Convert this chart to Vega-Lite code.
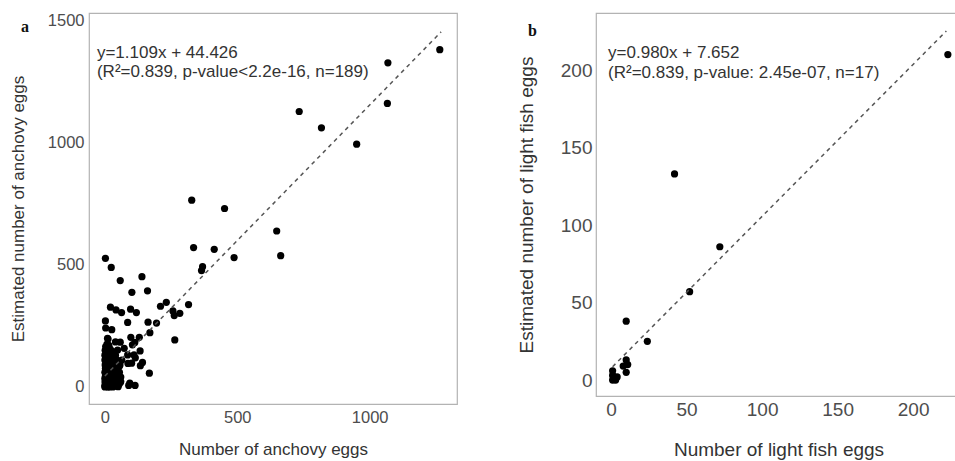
{
  "$schema": "https://vega.github.io/schema/vega-lite/v6.json",
  "padding": {"left": 8, "top": 11, "right": 0, "bottom": 0},
  "spacing": 58,
  "background": "white",
  "config": {
    "view": {"stroke": "#b3b3b3", "strokeWidth": 1.2},
    "axis": {"grid": false, "ticks": false, "domain": false, "format": "d", "labelFont": "Liberation Sans", "labelFontSize": 16.5, "labelColor": "#4d4d4d", "labelPadding": 5, "titleFont": "Liberation Sans", "titleFontSize": 17, "titleFontWeight": "normal", "titleColor": "#333333"},
    "title": {"font": "Liberation Serif", "fontSize": 16, "fontWeight": "bold", "color": "#111111", "anchor": "start", "frame": "group", "offset": 0}
  },
  "datasets": {
    "anchovy": [
      {"x": 1265, "y": 1380}, {"x": 1069, "y": 1326}, {"x": 1067, "y": 1160}, {"x": 734, "y": 1127}, {"x": 818, "y": 1060}, {"x": 951, "y": 993},
      {"x": 328, "y": 764}, {"x": 452, "y": 730}, {"x": 649, "y": 638}, {"x": 664, "y": 537}, {"x": 335, "y": 570}, {"x": 413, "y": 563},
      {"x": 488, "y": 529}, {"x": 369, "y": 492}, {"x": 365, "y": 476}, {"x": 2, "y": 526}, {"x": 24, "y": 489}, {"x": 58, "y": 435},
      {"x": 140, "y": 451}, {"x": 161, "y": 393}, {"x": 102, "y": 387}, {"x": 316, "y": 337}, {"x": 232, "y": 346}, {"x": 210, "y": 330},
      {"x": 257, "y": 311}, {"x": 283, "y": 301}, {"x": 262, "y": 292}, {"x": 264, "y": 192}, {"x": 195, "y": 261}, {"x": 163, "y": 265},
      {"x": 170, "y": 222}, {"x": 168, "y": 56}, {"x": 21, "y": 326}, {"x": 42, "y": 315}, {"x": 63, "y": 304}, {"x": 97, "y": 318},
      {"x": 119, "y": 304}, {"x": 86, "y": 264}, {"x": 2, "y": 270}, {"x": 3, "y": 241}, {"x": 26, "y": 234}, {"x": 12, "y": 196},
      {"x": 40, "y": 184}, {"x": 58, "y": 183}, {"x": 98, "y": 203}, {"x": 113, "y": 182}, {"x": 130, "y": 203}, {"x": 48, "y": 151},
      {"x": 133, "y": 147}, {"x": 110, "y": 131}, {"x": 115, "y": 119}, {"x": 87, "y": 96}, {"x": 101, "y": 97}, {"x": 142, "y": 100},
      {"x": 134, "y": 87}, {"x": 90, "y": 6}, {"x": 114, "y": 6}, {"x": 58, "y": 18}, {"x": 73, "y": 158}, {"x": 10, "y": 199},
      {"x": 104, "y": 172}, {"x": 86, "y": 131}, {"x": 64, "y": 110}, {"x": 54, "y": 83}, {"x": 60, "y": 22}, {"x": 94, "y": 15},
      {"x": 0, "y": 0}, {"x": 2, "y": 5}, {"x": 5, "y": 12}, {"x": 8, "y": 3}, {"x": 10, "y": 20}, {"x": 12, "y": 8}, {"x": 15, "y": 2},
      {"x": 18, "y": 15}, {"x": 20, "y": 30}, {"x": 22, "y": 5}, {"x": 25, "y": 10}, {"x": 28, "y": 22}, {"x": 30, "y": 0}, {"x": 32, "y": 14},
      {"x": 35, "y": 6}, {"x": 38, "y": 28}, {"x": 40, "y": 3}, {"x": 42, "y": 18}, {"x": 45, "y": 9}, {"x": 48, "y": 35}, {"x": 50, "y": 1},
      {"x": 1, "y": 25}, {"x": 3, "y": 40}, {"x": 6, "y": 33}, {"x": 9, "y": 48}, {"x": 11, "y": 38}, {"x": 14, "y": 55}, {"x": 16, "y": 44},
      {"x": 19, "y": 60}, {"x": 21, "y": 50}, {"x": 24, "y": 65}, {"x": 27, "y": 42}, {"x": 29, "y": 58}, {"x": 33, "y": 70}, {"x": 36, "y": 48},
      {"x": 39, "y": 62}, {"x": 43, "y": 75}, {"x": 46, "y": 52}, {"x": 0, "y": 60}, {"x": 2, "y": 75}, {"x": 4, "y": 88}, {"x": 7, "y": 68},
      {"x": 10, "y": 80}, {"x": 13, "y": 95}, {"x": 17, "y": 72}, {"x": 20, "y": 85}, {"x": 23, "y": 100}, {"x": 26, "y": 78}, {"x": 31, "y": 92},
      {"x": 34, "y": 105}, {"x": 37, "y": 84}, {"x": 41, "y": 98}, {"x": 44, "y": 112}, {"x": 0, "y": 110}, {"x": 3, "y": 120}, {"x": 5, "y": 100},
      {"x": 8, "y": 130}, {"x": 12, "y": 115}, {"x": 15, "y": 140}, {"x": 18, "y": 125}, {"x": 22, "y": 135}, {"x": 25, "y": 118}, {"x": 28, "y": 145},
      {"x": 32, "y": 128}, {"x": 1, "y": 150}, {"x": 6, "y": 145}, {"x": 10, "y": 160}, {"x": 14, "y": 152}, {"x": 20, "y": 155}, {"x": 0, "y": 35},
      {"x": 1, "y": 90}, {"x": 4, "y": 15}, {"x": 6, "y": 55}, {"x": 9, "y": 105}, {"x": 11, "y": 0}, {"x": 16, "y": 28}, {"x": 19, "y": 108},
      {"x": 24, "y": 90}, {"x": 27, "y": 5}, {"x": 30, "y": 110}, {"x": 35, "y": 35}, {"x": 38, "y": 115}, {"x": 42, "y": 45}, {"x": 46, "y": 80},
      {"x": 52, "y": 25}, {"x": 55, "y": 60}, {"x": 0, "y": 130}, {"x": 2, "y": 45}, {"x": 7, "y": 20}, {"x": 13, "y": 65}, {"x": 17, "y": 0},
      {"x": 21, "y": 118}, {"x": 26, "y": 140}, {"x": 33, "y": 52}, {"x": 40, "y": 130}, {"x": 47, "y": 100}, {"x": 53, "y": 10}, {"x": 57, "y": 90},
      {"x": 60, "y": 40}, {"x": 3, "y": 165}, {"x": 8, "y": 175}, {"x": 15, "y": 170}, {"x": 0, "y": 5}, {"x": 1, "y": 18}, {"x": 4, "y": 70},
      {"x": 7, "y": 120}, {"x": 9, "y": 88}, {"x": 30, "y": 40}, {"x": 36, "y": 20}, {"x": 44, "y": 30}, {"x": 18, "y": 95},
      {"x": 28, "y": 80}, {"x": 14, "y": 118}, {"x": 5, "y": 138}, {"x": 38, "y": 95}
    ],
    "anchovyLine": [{"x": 0, "y": 44.4}, {"x": 1270, "y": 1452.8}],
    "anchovyText": [
      {"x": -30, "y": 1365, "label": "y=1.109x + 44.426"},
      {"x": -30, "y": 1288, "label": "(R²=0.839, p-value<2.2e-16, n=189)"}
    ],
    "light": [
      {"x": 223, "y": 210}, {"x": 42, "y": 133}, {"x": 72, "y": 86}, {"x": 52, "y": 57}, {"x": 10, "y": 38}, {"x": 24, "y": 25},
      {"x": 10, "y": 13}, {"x": 11, "y": 10}, {"x": 8, "y": 9}, {"x": 10, "y": 5}, {"x": 1, "y": 6}, {"x": 1, "y": 3},
      {"x": 3, "y": 1}, {"x": 2, "y": 2}, {"x": 4, "y": 2}, {"x": 1, "y": 0}, {"x": 3, "y": 0}
    ],
    "lightLine": [{"x": 1, "y": 8.6}, {"x": 222, "y": 225.2}],
    "lightText": [
      {"x": -2, "y": 211, "label": "y=0.980x + 7.652"},
      {"x": -2, "y": 198, "label": "(R²=0.839, p-value: 2.45e-07, n=17)"}
    ]
  },
  "hconcat": [
    {
      "width": 368,
      "height": 391,
      "title": {"text": "a", "dx": -68, "dy": 27},
      "layer": [
        {
          "data": {"name": "anchovy"},
          "mark": {"type": "circle", "color": "#000000", "opacity": 1, "size": 52},
          "encoding": {
            "x": {"field": "x", "type": "quantitative", "scale": {"domain": [-60, 1330], "nice": false, "zero": false}, "axis": {"title": "Number of anchovy eggs", "values": [0, 500, 1000], "titlePadding": 16}},
            "y": {"field": "y", "type": "quantitative", "scale": {"domain": [-70, 1530], "nice": false, "zero": false}, "axis": {"title": "Estimated number of anchovy eggs", "values": [0, 500, 1000, 1500], "titlePadding": 20}}
          }
        },
        {
          "data": {"name": "anchovyLine"},
          "mark": {"type": "line", "color": "#555555", "strokeWidth": 1.5, "strokeDash": [4, 4]},
          "encoding": {"x": {"field": "x", "type": "quantitative"}, "y": {"field": "y", "type": "quantitative"}}
        },
        {
          "data": {"name": "anchovyText"},
          "mark": {"type": "text", "align": "left", "baseline": "middle", "font": "Liberation Sans", "fontSize": 17, "color": "#333333"},
          "encoding": {"x": {"field": "x", "type": "quantitative"}, "y": {"field": "y", "type": "quantitative"}, "text": {"field": "label"}}
        }
      ]
    },
    {
      "width": 365,
      "height": 383,
      "title": {"text": "b", "dx": -68, "dy": 30},
      "layer": [
        {
          "data": {"name": "light"},
          "mark": {"type": "circle", "color": "#000000", "opacity": 1, "size": 52},
          "encoding": {
            "x": {"field": "x", "type": "quantitative", "scale": {"domain": [-10, 231.7], "nice": false, "zero": false}, "axis": {"title": "Number of light fish eggs", "values": [0, 50, 100, 150, 200], "titlePadding": 21, "labelFontSize": 19, "titleFontSize": 19, "labelPadding": 4}},
            "y": {"field": "y", "type": "quantitative", "scale": {"domain": [-10.3, 236.8], "nice": false, "zero": false}, "axis": {"title": "Estimated number of light fish eggs", "values": [0, 50, 100, 150, 200], "titlePadding": 24, "labelFontSize": 19, "titleFontSize": 19, "labelPadding": 4}}
          }
        },
        {
          "data": {"name": "lightLine"},
          "mark": {"type": "line", "color": "#555555", "strokeWidth": 1.5, "strokeDash": [4, 4]},
          "encoding": {"x": {"field": "x", "type": "quantitative"}, "y": {"field": "y", "type": "quantitative"}}
        },
        {
          "data": {"name": "lightText"},
          "mark": {"type": "text", "align": "left", "baseline": "middle", "font": "Liberation Sans", "fontSize": 17, "color": "#333333"},
          "encoding": {"x": {"field": "x", "type": "quantitative"}, "y": {"field": "y", "type": "quantitative"}, "text": {"field": "label"}}
        }
      ]
    }
  ]
}
